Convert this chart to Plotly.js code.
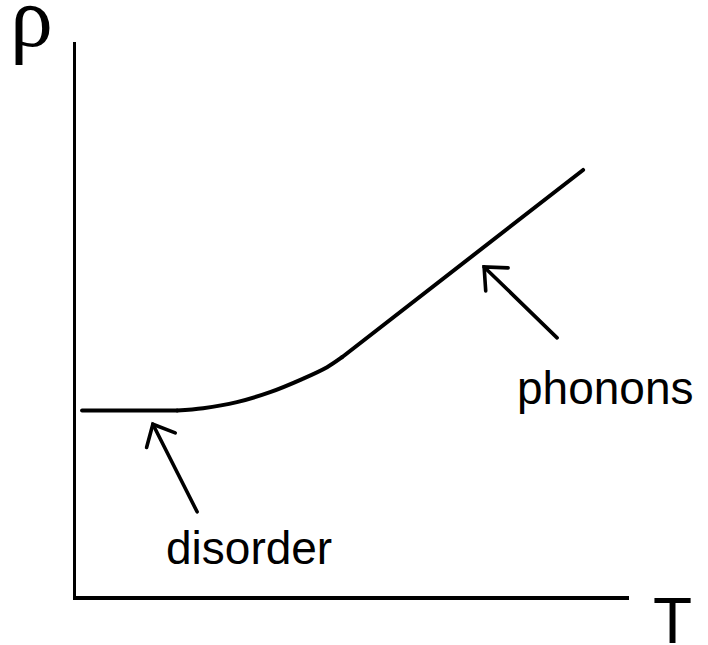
<!DOCTYPE html>
<html>
<head>
<meta charset="utf-8">
<script src="https://cdn.plot.ly/plotly-3.0.1.min.js"></script>
<style>
html,body{margin:0;padding:0;background:#fff;}
#chart{width:708px;height:645px;}
.scatterlayer path.js-line{stroke-linecap:round;}
</style>
</head>
<body>
<div id="chart"></div>
<script>
// Schematic resistivity curve rho(T) (arbitrary units, 0-100)
var flatT    = [1.1, 18.3];
var flatRho  = [33.5, 33.5];
var bendT    = [18.3, 23.0, 29.1, 35.1, 41.0, 45.4, 48.1];
var bendRho  = [33.5, 33.9, 35.0, 36.8, 39.2, 41.3, 43.1];
var lineT    = [48.1, 91.7];
var lineRho  = [43.1, 76.9];

// Arrows: tip and tail positions, and their labels
var arrowLabels  = ["disorder", "phonons"];
var arrowTipT    = [13.9, 73.8];
var arrowTipRho  = [31.0, 59.4];
var arrowTailT   = [21.9, 87.0];
var arrowTailRho = [15.2, 46.6];
var labelT       = [31.3, 95.8];
var labelRho     = [8.6, 37.6];

var axisLabelX = "T";
var axisLabelY = "ρ";

// plot area geometry (pixels per data unit) used to draw arrow heads
var PLOT_W = 553, PLOT_H = 554;
var pxT = PLOT_W / 100, pxR = PLOT_H / 100;
var HEAD_LEN = 24, HEAD_ANG = 42 * Math.PI / 180;

var lineStyle = {color: "#000", width: 4};
var traces = [
  {x: flatT, y: flatRho, mode: "lines", type: "scatter", line: lineStyle, hoverinfo: "skip"},
  {x: bendT, y: bendRho, mode: "lines", type: "scatter", line: {color: "#000", width: 4, shape: "spline", smoothing: 1}, hoverinfo: "skip"},
  {x: lineT, y: lineRho, mode: "lines", type: "scatter", line: lineStyle, hoverinfo: "skip"}
];

for (var i = 0; i < arrowLabels.length; i++) {
  var dx = (arrowTailT[i] - arrowTipT[i]) * pxT;
  var dy = -(arrowTailRho[i] - arrowTipRho[i]) * pxR;
  var a = Math.atan2(dy, dx);
  var xs = [arrowTailT[i], arrowTipT[i], null];
  var ys = [arrowTailRho[i], arrowTipRho[i], null];
  var arms = [a + HEAD_ANG, a - HEAD_ANG];
  xs.push(arrowTipT[i] + HEAD_LEN * Math.cos(arms[0]) / pxT);
  ys.push(arrowTipRho[i] - HEAD_LEN * Math.sin(arms[0]) / pxR);
  xs.push(arrowTipT[i]); ys.push(arrowTipRho[i]);
  xs.push(arrowTipT[i] + HEAD_LEN * Math.cos(arms[1]) / pxT);
  ys.push(arrowTipRho[i] - HEAD_LEN * Math.sin(arms[1]) / pxR);
  traces.push({x: xs, y: ys, mode: "lines", type: "scatter",
               line: {color: "#000", width: 3.6}, hoverinfo: "skip", cliponaxis: false});
}

var annotations = [];
for (var j = 0; j < arrowLabels.length; j++) {
  annotations.push({
    x: labelT[j], y: labelRho[j], xref: "x", yref: "y",
    text: arrowLabels[j], showarrow: false,
    xanchor: "center", yanchor: "middle",
    font: {family: "Liberation Sans, Arial, sans-serif", size: 46, color: "#000"}
  });
}
annotations.push({
  x: -0.0796, y: 1.045, xref: "paper", yref: "paper", text: axisLabelY,
  showarrow: false, xanchor: "center", yanchor: "middle",
  font: {family: "Liberation Serif, Times New Roman, serif", size: 86, color: "#000"}
});
annotations.push({
  x: 1.0795, y: -0.045, xref: "paper", yref: "paper", text: axisLabelX,
  showarrow: false, xanchor: "center", yanchor: "middle",
  font: {family: "Liberation Sans, Arial, sans-serif", size: 64, color: "#000"}
});

var layout = {
  width: 708, height: 645,
  margin: {l: 76, r: 79, t: 42, b: 49, pad: 0},
  paper_bgcolor: "#fff", plot_bgcolor: "#fff",
  showlegend: false,
  xaxis: {range: [0, 100], showline: true, linewidth: 3.5, linecolor: "#000",
          showgrid: false, zeroline: false, showticklabels: false, ticks: "", fixedrange: true},
  yaxis: {range: [0, 100], showline: true, linewidth: 3.5, linecolor: "#000",
          showgrid: false, zeroline: false, showticklabels: false, ticks: "", fixedrange: true},
  annotations: annotations
};

Plotly.newPlot("chart", traces, layout, {staticPlot: true, displayModeBar: false});
</script>
</body>
</html>
